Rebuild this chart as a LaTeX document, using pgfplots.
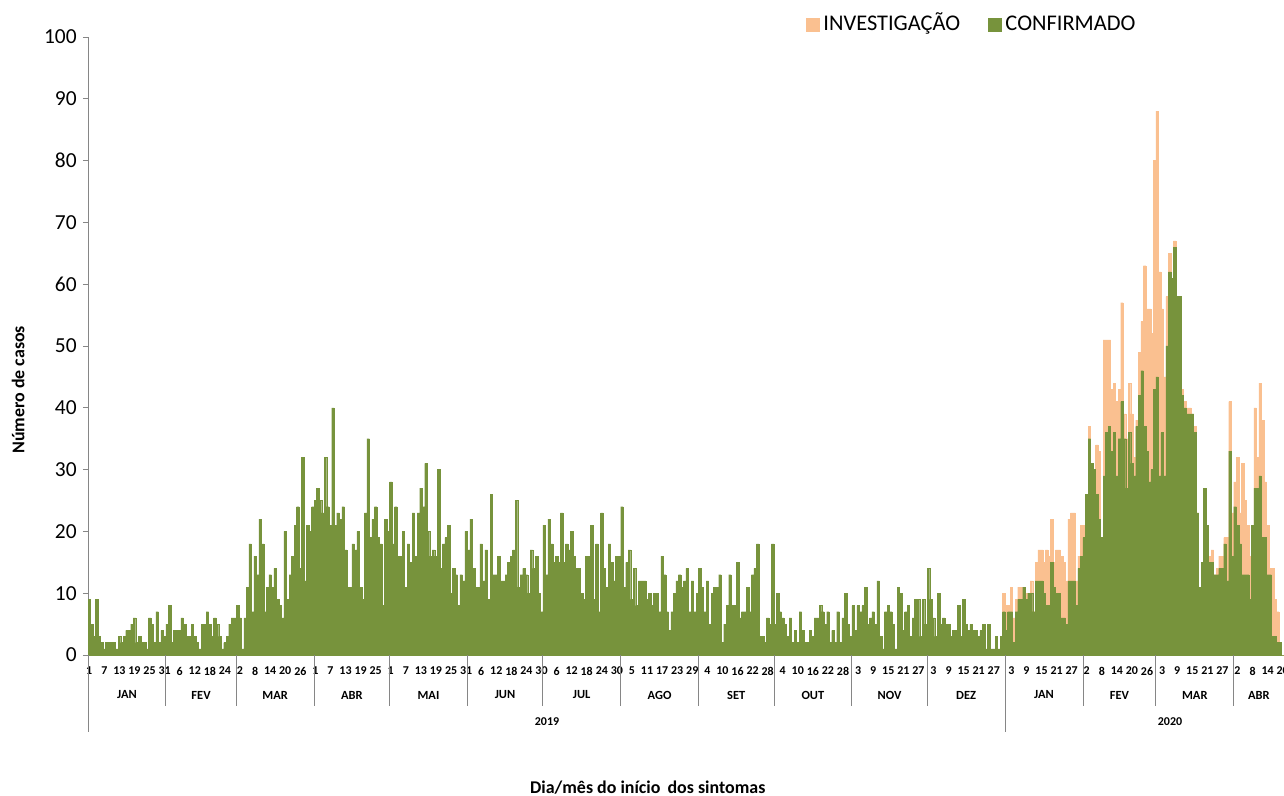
\documentclass[border=0pt]{standalone}
\usepackage{fontspec}
\setmainfont{Carlito}
\usepackage{pgfplots}
\usepackage{pgfplotstable}
\pgfplotsset{compat=1.18}
\definecolor{conf}{HTML}{77933C}
\definecolor{inv}{HTML}{FAC090}
\definecolor{axisgray}{HTML}{868686}

% CONFIRMADO, one value per day from 1 Jan 2019 to 20 Apr 2020
\pgfplotstableread[row sep=\\, header=false]{
9\\5\\3\\9\\3\\2\\1\\2\\2\\2\\2\\1\\3\\2\\3\\4\\4\\5\\6\\2\\3\\2\\2\\1\\6\\5\\2\\7\\2\\4\\3\\
5\\8\\2\\4\\4\\4\\6\\5\\3\\3\\5\\3\\2\\1\\5\\5\\7\\5\\3\\6\\5\\3\\1\\2\\3\\5\\6\\6\\
8\\6\\1\\6\\11\\18\\7\\16\\13\\22\\18\\7\\11\\13\\11\\14\\9\\8\\6\\20\\9\\13\\16\\21\\24\\14\\32\\12\\21\\20\\24\\
25\\27\\25\\23\\32\\24\\21\\40\\21\\23\\22\\24\\17\\11\\11\\18\\17\\20\\11\\9\\23\\35\\19\\22\\24\\19\\18\\8\\22\\20\\
28\\18\\24\\16\\16\\20\\11\\18\\15\\23\\16\\23\\27\\24\\31\\20\\16\\17\\16\\30\\14\\18\\19\\21\\10\\14\\13\\8\\13\\12\\20\\
17\\22\\14\\11\\11\\18\\12\\17\\9\\26\\13\\13\\16\\12\\12\\13\\15\\16\\17\\25\\11\\13\\14\\13\\10\\17\\14\\16\\10\\7\\
21\\13\\22\\18\\15\\16\\15\\23\\15\\18\\17\\20\\16\\14\\14\\10\\9\\16\\16\\21\\9\\18\\7\\23\\14\\11\\18\\15\\12\\16\\16\\
24\\11\\15\\17\\9\\14\\8\\12\\12\\12\\9\\10\\8\\10\\10\\7\\16\\13\\7\\4\\7\\10\\12\\13\\11\\12\\14\\7\\12\\7\\10\\
14\\11\\7\\12\\5\\10\\11\\11\\13\\2\\5\\8\\13\\8\\8\\15\\6\\7\\7\\11\\7\\13\\14\\18\\3\\3\\2\\6\\5\\18\\
5\\10\\7\\6\\5\\3\\6\\2\\4\\2\\7\\4\\2\\2\\4\\3\\6\\6\\8\\7\\5\\7\\2\\4\\2\\7\\2\\6\\10\\5\\3\\
8\\4\\8\\7\\8\\11\\5\\6\\7\\5\\12\\3\\1\\7\\8\\7\\5\\1\\11\\10\\4\\7\\8\\3\\6\\9\\9\\3\\9\\5\\
14\\9\\6\\3\\10\\5\\6\\5\\5\\3\\4\\4\\8\\3\\9\\5\\4\\5\\4\\4\\3\\4\\5\\1\\5\\1\\1\\3\\1\\3\\7\\
4\\7\\7\\2\\7\\9\\9\\11\\9\\10\\10\\7\\12\\12\\12\\10\\8\\8\\15\\11\\10\\10\\6\\6\\5\\12\\12\\12\\8\\14\\16\\
19\\26\\35\\31\\30\\26\\22\\19\\29\\36\\37\\33\\36\\29\\35\\41\\35\\27\\36\\31\\29\\37\\42\\46\\37\\33\\28\\30\\43\\
45\\29\\36\\29\\50\\62\\61\\66\\58\\58\\42\\40\\39\\39\\39\\36\\23\\11\\15\\27\\21\\15\\15\\13\\13\\14\\14\\18\\12\\33\\16\\
24\\21\\18\\13\\13\\13\\9\\21\\27\\27\\29\\19\\19\\13\\13\\3\\3\\2\\2\\0\\
}\confirmed

% CONFIRMADO + INVESTIGACAO (bar top), from 31 Dec 2019 to 20 Apr 2020
\pgfplotstableread[row sep=\\, header=false]{
10\\
8\\8\\11\\6\\9\\11\\11\\11\\10\\10\\12\\7\\15\\17\\17\\15\\17\\16\\22\\15\\17\\17\\16\\15\\12\\22\\23\\23\\12\\16\\21\\
21\\26\\37\\31\\30\\34\\33\\19\\51\\51\\51\\43\\44\\41\\43\\57\\39\\35\\44\\39\\32\\38\\49\\54\\63\\56\\56\\52\\80\\
88\\62\\56\\45\\58\\65\\61\\67\\58\\58\\43\\41\\40\\40\\39\\37\\23\\11\\15\\27\\21\\16\\17\\13\\14\\16\\16\\19\\19\\41\\23\\
28\\32\\23\\31\\25\\21\\16\\21\\40\\32\\44\\38\\28\\21\\14\\14\\9\\7\\2\\0\\
}\total

\begin{document}
\begin{tikzpicture}
\useasboundingbox (0,0) rectangle (1284bp,796bp);
\begin{axis}[
  at={(88bp,141bp)}, anchor=south west,
  scale only axis, width=1196bp, height=618bp,
  xmin=-0.5, xmax=475.5, ymin=0, ymax=100,
  axis x line*=bottom, axis y line*=left,
  axis line style={draw=axisgray, line width=0.8bp},
  clip=false,
  tick align=outside, major tick length=5bp,
  ytick={0,10,...,100},
  ytick style={draw=axisgray, line width=0.8bp},
  yticklabel style={font=\fontsize{21.5}{22}\selectfont, xshift=-2.8bp},
  /pgf/number format/assume math mode=true,
  xtick={0,6,12,18,24,30,36,42,48,54,60,66,72,78,84,90,96,102,108,114,120,126,132,138,144,150,156,162,168,174,180,186,192,198,204,210,216,222,228,234,240,246,252,258,264,270,276,282,288,294,300,306,312,318,324,330,336,342,348,354,360,367,373,379,385,391,397,403,409,415,421,427,433,439,445,451,457,463,469,475},
  xticklabels={1,7,13,19,25,31,6,12,18,24,2,8,14,20,26,1,7,13,19,25,1,7,13,19,25,31,6,12,18,24,30,6,12,18,24,30,5,11,17,23,29,4,10,16,22,28,4,10,16,22,28,3,9,15,21,27,3,9,15,21,27,3,9,15,21,27,2,8,14,20,26,3,9,15,21,27,2,8,14,20},
  xtick style={draw=none},
  xticklabel style={font=\bfseries\fontsize{12}{12}\selectfont, yshift=-3.5bp, inner xsep=0pt},
  xlabel={Dia/mês do início\, dos sintomas},
  xlabel style={at={(axis description cs:0.468,-0.215)}, anchor=center, font=\bfseries\fontsize{18}{20}\selectfont},
  ylabel={Número de casos},
  ylabel style={at={(axis description cs:-0.0585,0.429)}, anchor=center, font=\bfseries\fontsize{18}{20}\selectfont},
  legend style={at={(axis description cs:0.6003,1.0178)}, anchor=west, draw=none, fill=none,
    font=\fontsize{22.5}{24}\selectfont, inner sep=0pt,
    nodes={inner sep=1bp, text height=0.68em, text depth=0.22em, anchor=base west},
    /tikz/every odd column/.append style={column sep=3bp},
    /tikz/every even column/.append style={column sep=27bp}},
  legend columns=2, legend cell align=left,
  legend image code/.code={\fill[#1] (0bp,-1bp) rectangle (13bp,12bp);},
]
\addplot[ybar, bar width=1, bar shift=0pt, fill=inv, draw=inv, line width=0.3bp]
  table[x expr=\coordindex+364, y index=0] {\total};
\addlegendentry{INVESTIGAÇÃO}
\addplot[ybar, bar width=1, bar shift=0pt, fill=conf, draw=conf, line width=0.3bp]
  table[x expr=\coordindex, y index=0] {\confirmed};
\addlegendentry{CONFIRMADO}
\end{axis}
% multi-level category axis: months and years
\foreach \b in {31,59,90,120,151,181,212,243,273,304,334,396,425,456}
  \draw[axisgray, line width=0.8bp] ({(88+\b*2.512605)*1bp},141bp) -- ++(0,-51bp);
\foreach \b in {0,365,476}
  \draw[axisgray, line width=0.8bp] ({(88+\b*2.512605)*1bp},141bp) -- ++(0,-77bp);
\foreach \c/\m in {15/JAN,44.5/FEV,74/MAR,104.5/ABR,135/MAI,165.5/JUN,196/JUL,227/AGO,257.5/SET,288/OUT,318.5/NOV,349/DEZ,380/JAN,410/FEV,440/MAR,465.5/ABR}
  \node[font=\bfseries\fontsize{12.5}{13}\selectfont] at ({(88+(\c+0.5)*2.512605)*1bp},101bp) {\m};
\node[font=\bfseries\fontsize{12}{13}\selectfont] at (547bp,74bp) {2019};
\node[font=\bfseries\fontsize{12}{13}\selectfont] at (1170bp,74bp) {2020};
\end{tikzpicture}
\end{document}
